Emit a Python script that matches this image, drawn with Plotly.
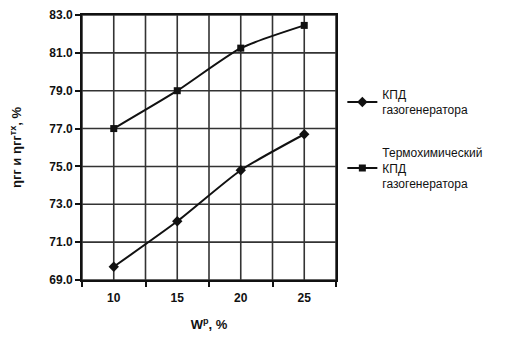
import plotly.graph_objects as go

categories = ["10", "15", "20", "25"]
kpd = [69.7, 72.1, 74.8, 76.7]
thermo = [77.0, 79.0, 81.25, 82.45]
y_ticks = [69, 71, 73, 75, 77, 79, 81, 83]

xpos = list(range(len(categories)))
x_bounds = [i - 0.5 for i in range(len(categories) + 1)]

fig = go.Figure()
fig.add_trace(go.Scatter(
    x=xpos, y=kpd, mode="lines+markers", name="КПД<br>газогенератора",
    legendgroup="a",
    line=dict(color="#111", width=2, shape="spline", smoothing=0.6),
    marker=dict(symbol="diamond", size=8, color="#111"),
))
fig.add_trace(go.Scatter(
    x=xpos, y=thermo, mode="lines+markers", name="Термохимический<br>КПД<br>газогенератора",
    legendgroup="b",
    line=dict(color="#111", width=2, shape="spline", smoothing=0.6),
    marker=dict(symbol="square", size=7, color="#111"),
))

# grid lines derived from the axis tick arrays
grid = "#333333"
for xv in xpos + x_bounds:
    fig.add_shape(type="line", xref="x", yref="paper", x0=xv, x1=xv, y0=0, y1=1,
                  line=dict(color=grid, width=1.6), layer="below")
for yv in y_ticks:
    fig.add_shape(type="line", xref="paper", yref="y", x0=0, x1=1, y0=yv, y1=yv,
                  line=dict(color=grid, width=1.6), layer="below")

font = "Arial, Liberation Sans, sans-serif"
fig.update_layout(
    template="none",
    width=515, height=337,
    margin=dict(l=74, r=187, t=7, b=65),
    paper_bgcolor="white", plot_bgcolor="white",
    font=dict(family=font, color="#111", size=12),
    showlegend=True,
    legend=dict(x=1.025, y=0.755, xanchor="left", yanchor="top",
                font=dict(size=12, family=font, color="#111"),
                tracegroupgap=24, itemwidth=30, bgcolor="rgba(0,0,0,0)"),
)
fig.update_xaxes(
    range=[-0.5, len(categories) - 0.5],
    tickmode="array", tickvals=xpos, ticktext=categories,
    ticks="", ticklabelstandoff=6,
    tickfont=dict(size=12, family=font, weight="bold"),
    showgrid=False,
    showline=True, linecolor="#111", linewidth=1.8, mirror=True,
    zeroline=False, automargin=False,
    minor=dict(tickmode="array", tickvals=x_bounds,
               ticks="outside", ticklen=5, tickcolor="#111", tickwidth=1.5, showgrid=False),
    title=dict(text="W<sup>р</sup>, %", font=dict(size=13, family=font, weight="bold"),
               standoff=16),
)
fig.update_yaxes(
    range=[69, 83], tickmode="array", tickvals=y_ticks, tickformat=".1f",
    ticks="outside", ticklen=5, tickcolor="#111", tickwidth=1.5,
    tickfont=dict(size=12, family=font, weight="bold"),
    showgrid=False,
    showline=True, linecolor="#111", linewidth=1.8, mirror=True,
    zeroline=False, automargin=False,
    title=dict(text="ηгг и ηгг<sup>тх</sup>, %",
               font=dict(size=13, family=font, weight="bold"), standoff=30),
)

fig.write_html("out.html")
